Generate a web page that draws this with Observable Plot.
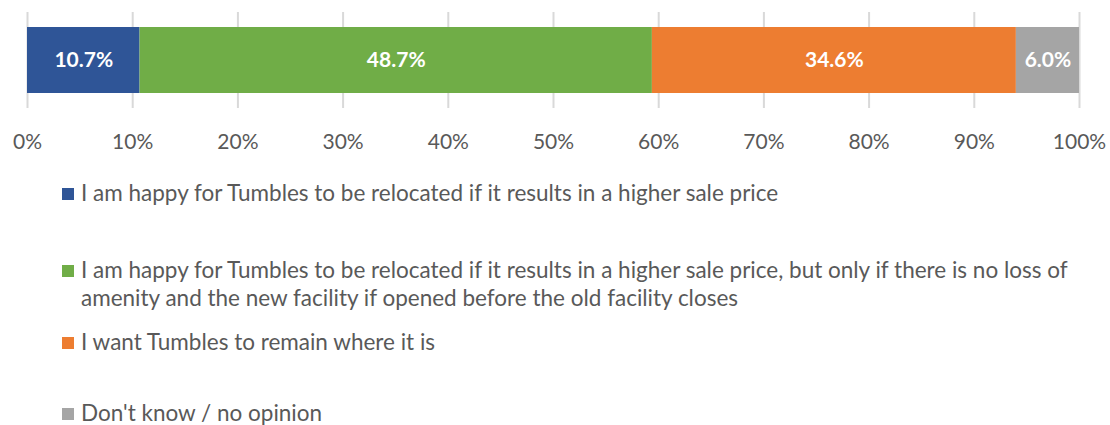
<!DOCTYPE html>
<html><head><meta charset="utf-8">
<script src="https://cdn.jsdelivr.net/npm/d3@7"></script>
<script src="https://cdn.jsdelivr.net/npm/@observablehq/plot@0.6"></script>
<style>
body{margin:0;background:#fff;overflow:hidden;font-family:Lato,"Open Sans",sans-serif;}
#legend{color:#595959;font-family:Lato,sans-serif;font-size:22.5px;line-height:28px;}
.item{display:flex;align-items:flex-start;padding-left:62px;width:1040px;}
.sw{width:12px;height:12px;flex:none;margin-top:9px;margin-right:7px;}
</style></head>
<body>
<div id="chart"></div>
<div id="legend"></div>
<script>
const categories = [
  "I am happy for Tumbles to be relocated if it results in a higher sale price",
  "I am happy for Tumbles to be relocated if it results in a higher sale price, but only if there is no loss of amenity and the new facility if opened before the old facility closes",
  "I want Tumbles to remain where it is",
  "Don't know / no opinion"
];
const values = [10.7, 48.7, 34.6, 6.0];
const colors = ["#2F5597", "#70AD47", "#ED7D31", "#A5A5A5"];
const tickValues = [0,10,20,30,40,50,60,70,80,90,100];

const data = categories.map((c,i)=>({cat:c, value:values[i], row:"r"}));

const chart = Plot.plot({
  width:1110, height:160,
  marginLeft:27, marginRight:31, marginTop:12, marginBottom:52,
  style:{fontFamily:"Lato, 'Open Sans', sans-serif", background:"#fff"},
  x:{domain:[0,100], ticks:tickValues, tickFormat:d=>d+"%", tickSize:0, tickPadding:26, label:null},
  y:{domain:["r"], paddingInner:0, paddingOuter:0.227, axis:null},
  color:{domain:categories, range:colors},
  marks:[
    Plot.ruleX(tickValues,{stroke:"#d9d9d9", strokeWidth:2}),
    Plot.barX(data, Plot.stackX({x:"value", y:"row", fill:"cat", order:null})),
    Plot.text(data, Plot.stackX({x:"value", y:"row", order:null, text:d=>d.value.toFixed(1)+"%", fill:"white", fontWeight:"bold", fontSize:21})),
    Plot.axisX({ticks:tickValues, tickFormat:d=>d+"%", tickSize:0, tickPadding:26, fontSize:21, color:"#595959", label:null})
  ]
});
document.getElementById("chart").appendChild(chart);

const margins = [19, 49, 16, 43];
const leg = document.getElementById("legend");
categories.forEach((c,i)=>{
  const it = document.createElement("div");
  it.className="item"; it.style.marginTop = margins[i]+"px";
  const sw = document.createElement("div"); sw.className="sw"; sw.style.background=colors[i];
  const tx = document.createElement("div"); tx.textContent = c;
  it.appendChild(sw); it.appendChild(tx); leg.appendChild(it);
});
</script>
</body></html>
